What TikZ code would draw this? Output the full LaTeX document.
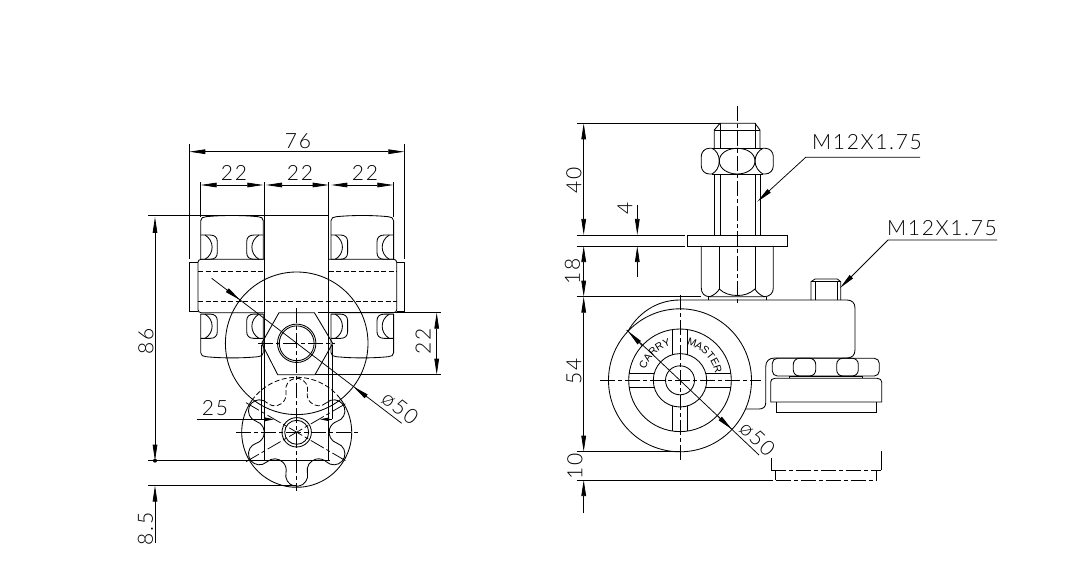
\documentclass[tikz,border=0pt]{standalone}
\usepackage{fontspec}
\setmainfont[LetterSpace=8]{Lato Light}
\newfontfamily\smallf{Liberation Sans}
\usetikzlibrary{arrows.meta}
\tikzset{
  obj/.style={line width=0.85pt,black},
  dimline/.style={line width=0.75pt,black},
  cl/.style={line width=0.75pt,black,dash pattern=on 15pt off 3pt on 4pt off 3pt},
  hid/.style={line width=0.8pt,black,dash pattern=on 5pt off 2.5pt},
  tip/.style={-{Triangle[length=16pt,width=4.6pt]}},
  bip/.style={{Triangle[length=16pt,width=4.6pt]}-{Triangle[length=16pt,width=4.6pt]}},
  dimtext/.style={font=\fontsize{21}{21}\selectfont,inner sep=0pt},
  smalltext/.style={font=\smallf\fontsize{10.5}{11}\selectfont,inner sep=0pt}
}
\begin{document}
\begin{tikzpicture}[x=1pt,y=-1pt]
\useasboundingbox (0,0) rectangle (1071,564);
\fill[white] (0,0) rectangle (1071,564);

%=========== LEFT VIEW ===========
% wheels
\foreach \c in {232,362.3}{
 \begin{scope}[shift={(\c,286.7)},obj]
  \draw (-31.3,-27.4) -- (-31.3,-66) .. controls (-31.3,-69) and (-29,-69.5) .. (-26,-70)
     .. controls (-10,-71.6) and (10,-71.6) .. (26,-70)
     .. controls (29,-69.5) and (31.3,-69) .. (31.3,-66) -- (31.3,-27.4);
  \draw (-31.3,27.4) -- (-31.3,66) .. controls (-31.3,69) and (-29,69.5) .. (-26,70)
     .. controls (-10,71.6) and (10,71.6) .. (26,70)
     .. controls (29,69.5) and (31.3,69) .. (31.3,66) -- (31.3,27.4);
  \foreach \sx in {1,-1}{\foreach \sy in {1,-1}{
   \begin{scope}[xscale=\sx,yscale=\sy]
    \draw (-31.3,-51.7) -- (-22,-51.7) .. controls (-17,-51.7) and (-14.7,-49) .. (-14.7,-45)
       -- (-14.7,-34) .. controls (-14.7,-30) and (-17,-27.4) .. (-22,-27.4) -- (-31.3,-27.4);
    \draw (-27,-51.7) .. controls (-17.5,-46) and (-17.5,-33) .. (-27,-27.4);
   \end{scope}}}
 \end{scope}}
% hubs
\draw[obj,rounded corners=3pt] (265,259.3) -- (198,259.3) -- (198,312.7) -- (265,312.7);
\draw[obj,rounded corners=3pt] (328.7,259.3) -- (396.7,259.3) -- (396.7,312.7) -- (328.7,312.7);
\draw[obj] (198,262) -- (189.3,262) -- (189.3,311) -- (198,311);
\draw[obj] (396.7,262) -- (404.3,262) -- (404.3,311) -- (396.7,311);
\draw[hid] (198,271.7) -- (265,271.7) (328.7,271.7) -- (396.7,271.7);
\draw[hid] (198,301.7) -- (396.7,301.7);
% centre body
\draw[obj] (264.8,182) -- (264.8,460.7) (328.8,182) -- (328.8,460.7);
\draw[obj] (261.7,345) -- (261.7,419.3) (332.3,345) -- (332.3,419.3);
% big circle, hexagon
\draw[obj] (296.7,343.3) circle (71.3);
\draw[obj] (261.7,343.3) -- (279,312.7) -- (314.4,312.7) -- (332.7,343.3) -- (315,374.7) -- (277.7,374.7) -- cycle;
\draw[obj] (296.7,343.3) circle (19.2) (296.7,343.3) circle (17.4);
\draw[cl] (258,343.3) -- (335,343.3);
\draw[cl] (296.7,308) -- (296.7,491);
% knob
\draw[obj] plot[domain=38:-218,samples=90,smooth] ({296.7+55*cos(\x)},{432.3-55*sin(\x)});
\draw[hid] plot[domain=38:142,samples=40,smooth] ({296.7+55*cos(\x)},{432.3-55*sin(\x)});
\begin{scope}[shift={(296.7,432.3)},y=1pt]
  \foreach \r in {-210,-150,-90,-30}{
    \draw[obj,rotate=\r] (40.56,-10.73) arc (-102.8:102.8:11) arc (-77.2:-222.8:11.5);}
  \draw[obj,rotate=30] (40.56,-10.73) arc (-102.8:102.8:11);
  \draw[hid,rotate=30] (40.56,10.73) arc (-77.2:-222.8:11.5);
  \draw[hid,rotate=90] (40.56,-10.73) arc (-102.8:102.8:11) arc (-77.2:-222.8:11.5);
\end{scope}
\draw[obj] (296.7,432.3) circle (14.7);
\draw[obj] (296.7,432.3) circle (12);
\draw[cl] (236,432.3) -- (358,432.3);
\draw[cl] (246,402.7) -- (347.3,461.7);
\draw[cl] (246,461.7) -- (347.3,402.7);
% left dimensions
\draw[dimline,bip] (189.3,151.7) -- (404.3,151.7);
\draw[dimline] (189.3,144) -- (189.3,259) (404.3,144) -- (404.3,259);
\draw[dimline,bip] (200.7,185) -- (263.3,185);
\draw[dimline,bip] (266,185) -- (328.7,185);
\draw[dimline,bip] (331.3,185) -- (393.3,185);
\draw[dimline] (200.7,182) -- (200.7,217) (393.3,182) -- (393.3,217);
\draw[dimline] (148,215) -- (328.7,215);
\node[dimtext] (t76) at (298,141.5) {76};
\node[dimtext] (t22a) at (234,172.5) {22};
\node[dimtext] (t22b) at (300,172.5) {22};
\node[dimtext] (t22c) at (365,172.5) {22};
\draw[dimline,bip] (155,217) -- (155,460.7);
\draw[dimline] (148,460.7) -- (330,460.7);
\draw[dimline] (148,485) -- (296.7,485);
\draw[dimline,tip] (155,543) -- (155,485.6);
\fill (155,460.7) circle (2);
\node[dimtext,rotate=90] (t86) at (146,341) {86};
\node[dimtext,rotate=90] (t85) at (145.5,529) {8.5};
\draw[dimline] (318,312.7) -- (440.7,312.7) (315,374.7) -- (440.7,374.7);
\draw[dimline,bip] (436.7,312.7) -- (436.7,374.7);
\node[dimtext,rotate=90] (t22d) at (423,341.5) {22};
\draw[dimline,{Triangle[length=9pt,width=3.5pt]}-] (274,419.3) -- (196.7,419.3);
\draw[dimline,{Triangle[length=9pt,width=3.5pt]}-] (320,419.3) -- (332.3,419.3);
\node[dimtext] (t25) at (215,408.5) {25};
\draw[dimline] (211.7,278.3) -- (401.7,423.3);
\draw[dimline,tip] (226.3,289.4) -- (240,300);
\draw[dimline,tip] (367,397) -- (353.4,386.6);
\node[dimtext,rotate=-38] (phi1) at (400,408) {ø50};

%=========== RIGHT VIEW ===========
\draw[cl] (737.3,106) -- (737.3,303);
% bolt
\draw[obj] (714.3,148.3) -- (714.3,130) -- (720,123.3) -- (755,123.3) -- (760,130) -- (760,148.3);
\draw[obj] (714.3,130) -- (760,130);
\draw[obj] (720,123.3) -- (720,148.3) (755,123.3) -- (755,148.3);
\draw[obj] (714.3,174) -- (714.3,235) (720,174) -- (720,235) (755,174) -- (755,235) (760,174) -- (760,235);
% upper nut
\draw[obj,rounded corners=8pt] (712,148.3) -- (701.3,148.3) -- (701.3,174) -- (712,174);
\draw[obj,rounded corners=8pt] (763,148.3) -- (773.3,148.3) -- (773.3,174) -- (763,174);
\draw[obj] (712,148.3) -- (763,148.3) (712,174) -- (763,174);
\draw[obj] (719.3,161) .. controls (719.3,153) and (728,148.3) .. (737.3,148.3) .. controls (746.5,148.3) and (755,153) .. (755,161)
  .. controls (755,169) and (746.5,174) .. (737.3,174) .. controls (728,174) and (719.3,169) .. (719.3,161);
\draw[obj] (712,148.3) .. controls (716,150) and (719.3,155) .. (719.3,161) .. controls (719.3,167) and (716,172) .. (712,174);
\draw[obj] (763,148.3) .. controls (759,150) and (755,155) .. (755,161) .. controls (755,167) and (759,172) .. (763,174);
% washer
\draw[obj] (687.7,235) rectangle (787.7,246);
% lower nut
\draw[obj] (701.3,246) -- (701.3,288) .. controls (701.3,293) and (704,296.7) .. (710,296.7) -- (764,296.7) .. controls (770,296.7) and (773.3,293) .. (773.3,288) -- (773.3,246);
\draw[obj] (719.3,246) -- (719.3,289) (755,246) -- (755,289);
\draw[obj] (710,296.7) .. controls (714,295) and (718,292) .. (719.3,289) .. controls (724,293.5) and (730,295.5) .. (737.3,295.5) .. controls (744.5,295.5) and (750,293.5) .. (755,289) .. controls (756.5,292) and (760,295) .. (764,296.7);
\draw[obj] (708.3,296.7) -- (708.3,300) (766.7,296.7) -- (766.7,300);
% arm
\draw[obj] (628,331.2) .. controls (637,315) and (655,300) .. (680,300) -- (847,300) .. controls (852,300) and (855,303) .. (855,308)
  -- (855,350) .. controls (855,355) and (852,358) .. (847,358) -- (775,358) .. controls (769,358) and (765.7,361) .. (765.7,367)
  -- (765.7,403) .. controls (765.7,407) and (763,409) .. (759,409) -- (745,409);
% stud
\draw[obj] (811,300) -- (811,281.7) -- (815,279) -- (837.3,279) -- (840.7,281.7) -- (840.7,300);
\draw[obj] (811,281.7) -- (840.7,281.7) (815,281.7) -- (815,300) (837.3,281.7) -- (837.3,300);
% wheel
\draw[obj] (680,380.3) circle (71.5) (680,380.3) circle (51.3) (680,380.3) circle (26.7) (680,380.3) circle (14.5);
\draw[obj] (672.8,329.5) -- (672.8,354.6) (687.2,329.5) -- (687.2,354.6);
\draw[obj] (672.8,406) -- (672.8,431) (687.2,406) -- (687.2,431);
\draw[obj] (629.2,373) -- (654.3,373) (629.2,387.6) -- (654.3,387.6);
\draw[obj] (705.7,373) -- (730.8,373) (705.7,387.6) -- (730.8,387.6);
\draw[cl] (600,380.3) -- (761,380.3);
\draw[cl] (680,295) -- (680,460);
% wheel text
\foreach \l/\a in {C/157,A/145.2,R/133.5,R/121.7,Y/110}{
  \node[smalltext,rotate=\a-90] at ({680+39.5*cos(\a)},{380.3-39.5*sin(\a)}) {\l};}
\foreach \l/\a in {M/72,A/61,S/50,T/39,E/28,R/17}{
  \node[smalltext,rotate=\a-90] at ({680+39.5*cos(\a)},{380.3-39.5*sin(\a)}) {\l};}
% lock nut and foot
\draw[obj,rounded corners=5pt] (772.3,358.3) rectangle (879.3,376);
\draw[obj,rounded corners=6pt] (793.3,358.3) rectangle (815.7,376);
\draw[obj,rounded corners=6pt] (836.7,358.3) rectangle (858.3,376);
\draw[obj] (789.3,378.3) -- (789.3,376) -- (862.7,376) -- (862.7,378.3);
\draw[obj] (770.7,402) -- (770.7,382) .. controls (770.7,380) and (772,378.3) .. (775,378.3) -- (877,378.3) .. controls (880,378.3) and (881.7,380) .. (881.7,382) -- (881.7,402) -- cycle;
\draw[obj] (776,402) -- (776,412.3) -- (876,412.3) -- (876,402);
% phantom foot
\draw[dimline] (771,458) -- (771,470) (881.3,451) -- (881.3,470) (775.7,470) -- (775.7,480) (876,470) -- (876,480);
\draw[cl] (771,470) -- (881.3,470);
\draw[cl] (775.7,480) -- (876,480);
% right dimensions
\draw[dimline] (576.7,123.3) -- (720,123.3);
\draw[dimline] (576.7,235) -- (685,235) (576.7,246) -- (685,246);
\draw[dimline] (576.7,296.7) -- (701.3,296.7);
\draw[dimline] (576.7,451.7) -- (680,451.7);
\draw[dimline] (576.7,480) -- (773,480);
\draw[dimline,bip] (583.7,123.3) -- (583.7,235);
\draw[dimline,bip] (583.7,246) -- (583.7,296.7);
\draw[dimline,bip] (583.7,296.7) -- (583.7,451.7);
\draw[dimline,tip] (583.7,513) -- (583.7,480);
\node[dimtext,rotate=90] (t40) at (574,180) {40};
\node[dimtext,rotate=90] (t18) at (572.5,271) {18};
\node[dimtext,rotate=90] (t54) at (574,371.7) {54};
\node[dimtext,rotate=90] (t10) at (575,466.7) {10};
\draw[dimline,tip] (637.3,205) -- (637.3,235);
\draw[dimline,tip] (637.3,276.7) -- (637.3,246);
\node[dimtext,rotate=90] (t4) at (625,208) {4};
\draw[dimline,tip] (920,157.3) -- (805.7,157.3) -- (757.3,201.7);
\node[dimtext] (m1) at (867,142) {M12X1.75};
\draw[dimline,tip] (997,240) -- (888,240) -- (840,288);
\node[dimtext] (m2) at (942,228) {M12X1.75};
\draw[dimline] (626.7,330) -- (759,455);
\draw[dimline,tip] (642,345.5) -- (628,331.2);
\draw[dimline,tip] (718,416.4) -- (732,429.4);
\node[dimtext,rotate=-43] (phi2) at (757.3,439) {ø50};
\end{tikzpicture}
\end{document}
